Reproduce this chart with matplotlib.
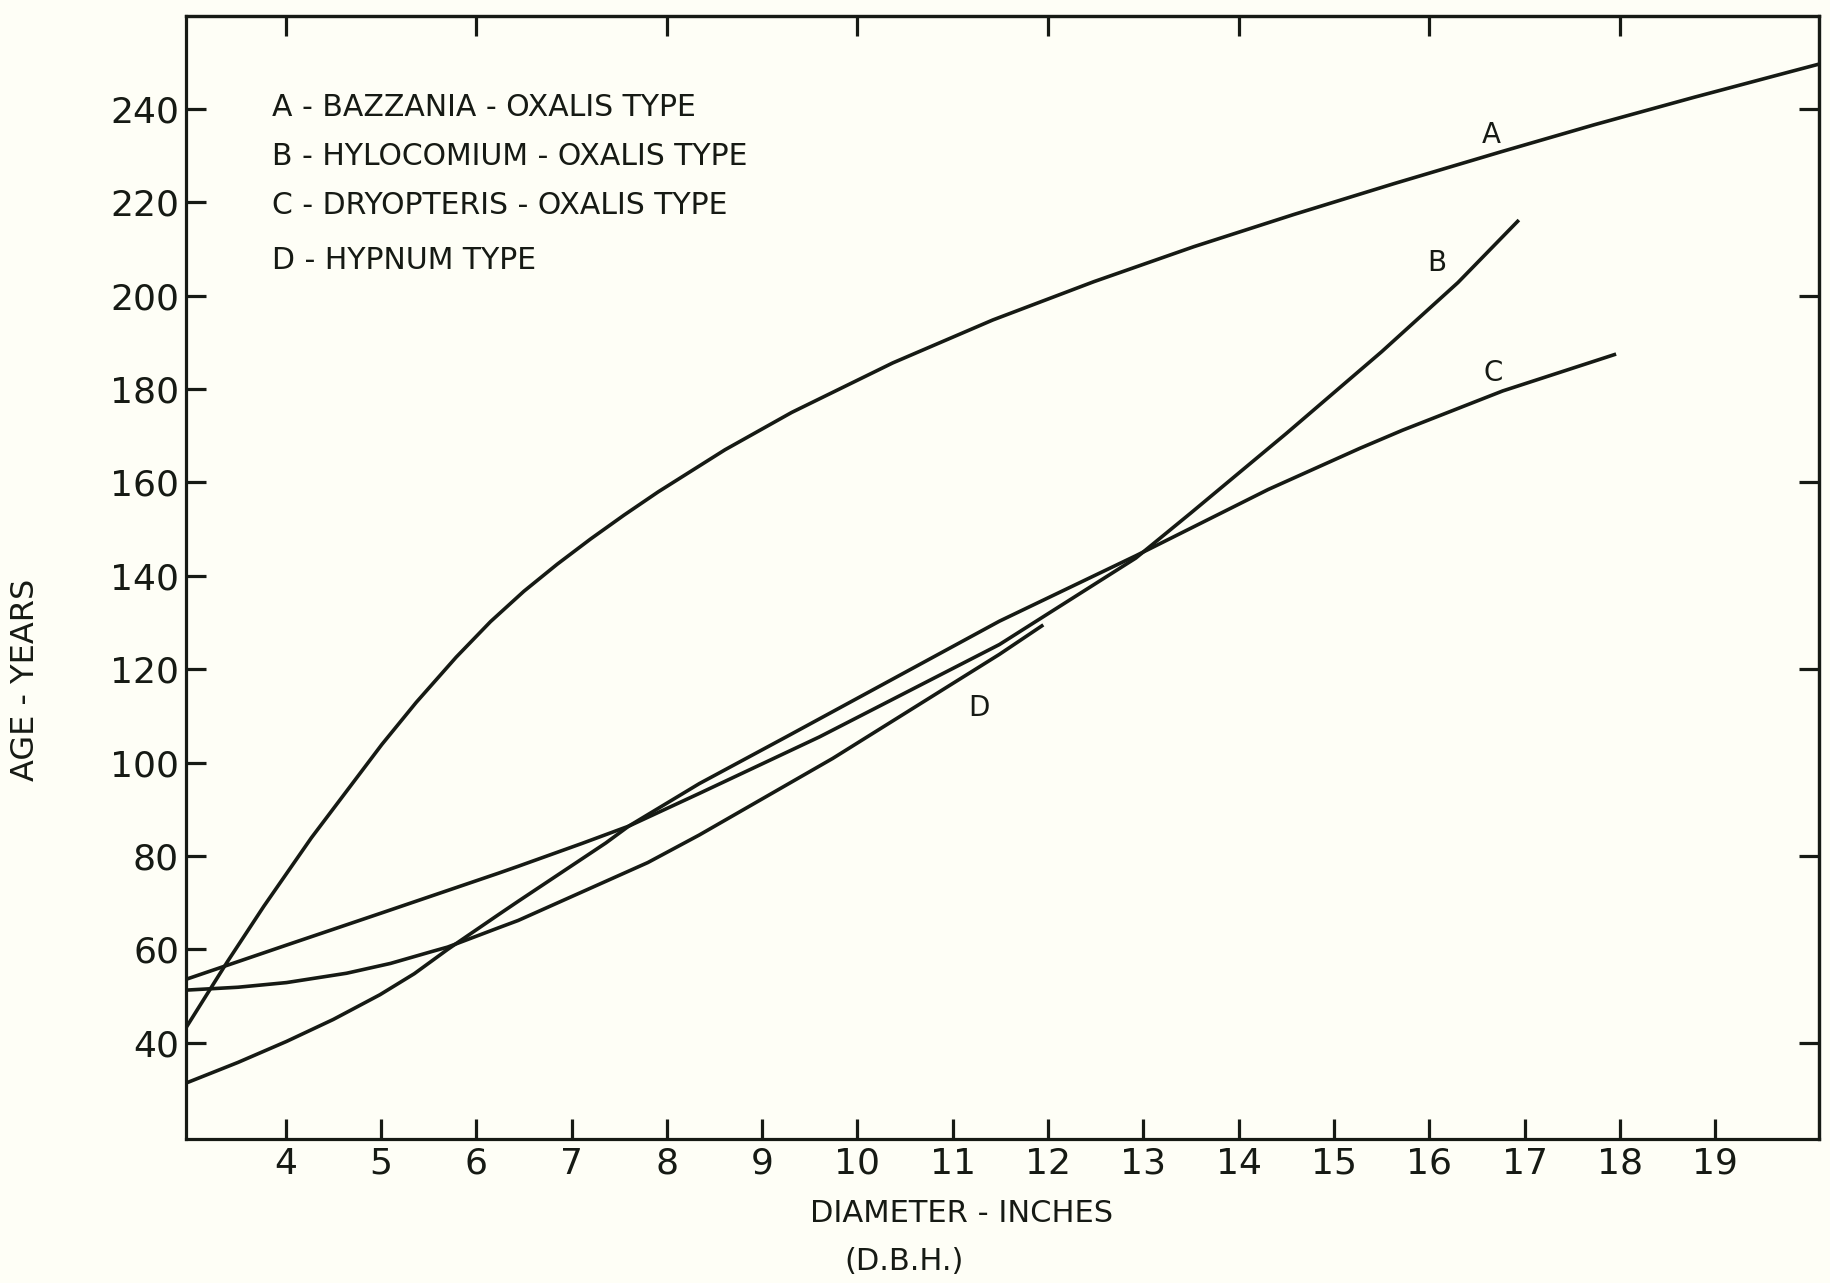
"""
plot.py
=======
Âge des arbres (années) en fonction du diamètre D.B.H. (pouces),
pour quatre types de station (A, B, C, D).

Usage
-----
    python3 plot.py      # écrit out.png
"""

import matplotlib
matplotlib.use("Agg")
import matplotlib.pyplot as plt

# ---------------------------------------------------------------- données
# Valeurs (diamètre en pouces, âge en années)

# A - Bazzania - Oxalis
diam_a = [2.96, 3.39, 3.77, 4.27, 5.01, 5.37, 5.79, 6.15, 6.50, 6.85, 7.20,
          7.55, 7.91, 8.61, 9.31, 10.37, 11.42, 12.48, 13.53, 14.58, 15.63,
          16.75, 17.73, 18.78, 19.83, 20.09]
age_a = [43.4, 57.4, 69.2, 83.9, 103.9, 112.9, 122.6, 130.2, 136.7, 142.5, 147.9,
         153.0, 158.0, 167.0, 175.0, 185.6, 194.8, 203.0, 210.5, 217.4, 224.0,
         230.8, 236.6, 242.5, 248.2, 249.6]

# B - Hylocomium - Oxalis
diam_b = [2.97, 3.50, 4.01, 4.50, 4.99, 5.35, 5.70, 6.23, 6.44, 7.36, 7.60,
          8.34, 9.60, 11.49, 12.92, 13.50, 14.50, 15.50, 16.30, 16.94]
age_b = [31.5, 35.8, 40.3, 45.0, 50.3, 54.8, 60.0, 67.4, 70.3, 82.8, 86.4,
         93.4, 105.5, 125.3, 143.8, 153.5, 170.5, 188.0, 202.8, 216.2]

# C - Dryopteris - Oxalis
diam_c = [2.97, 4.02, 5.02, 6.23, 6.44, 7.11, 7.60, 8.34, 9.26, 11.49, 12.92,
          14.31, 15.27, 15.72, 16.77, 17.96]
age_c = [53.7, 61.0, 67.9, 76.3, 77.8, 82.7, 86.4, 95.5, 105.6, 130.3, 144.3,
         158.5, 167.3, 171.2, 179.6, 187.5]

# D - Hypnum
diam_d = [2.97, 3.50, 4.01, 4.64, 5.10, 5.56, 5.70, 6.23, 6.44, 7.80, 8.34,
          9.74, 11.49, 11.95]
age_d = [51.3, 51.9, 52.9, 54.9, 57.0, 59.7, 60.5, 64.6, 66.2, 78.6, 84.5,
         100.9, 123.2, 129.5]

lettres = ["A", "B", "C", "D"]
legende = [
    "A - BAZZANIA - OXALIS TYPE",
    "B - HYLOCOMIUM - OXALIS TYPE",
    "C - DRYOPTERIS - OXALIS TYPE",
    "D - HYPNUM TYPE",
]

diam_ticks = list(range(4, 20))
diam_ticks_haut = list(range(4, 19, 2))
age_ticks = list(range(40, 241, 20))
age_ticks_droite = list(range(40, 241, 40))


def plot_age_diametre(save_path: str = "out.png") -> None:
    """Trace les quatre courbes âge / diamètre et sauvegarde l'image."""
    plt.rcParams["font.family"] = ["DejaVu Sans"]
    fond = "#fefef6"
    encre = "#161a14"

    fig = plt.figure(figsize=(18.31, 12.83), dpi=100, facecolor=fond)
    ax = fig.add_axes([0.1016, 0.1126, 0.8919, 0.8753], facecolor=fond)

    courbes = [(diam_a, age_a), (diam_b, age_b), (diam_c, age_c), (diam_d, age_d)]
    for x, y in courbes:
        ax.plot(x, y, color=encre, linewidth=2.6,
                solid_joinstyle="round", solid_capstyle="butt")

    ax.set_xlim(2.955, 20.09)
    ax.set_ylim(19.5, 260)

    # graduations : bas et gauche avec valeurs, haut et droite sans
    ax.set_xticks(diam_ticks)
    ax.set_yticks(age_ticks)
    ax.tick_params(axis="both", direction="in", length=14.5, width=2.3,
                   color=encre, labelcolor=encre, labelsize=26)
    ax.tick_params(axis="x", pad=6)
    ax.tick_params(axis="y", pad=5)
    for s in ax.spines.values():
        s.set_linewidth(2.3)
        s.set_color(encre)

    haut = ax.secondary_xaxis("top")
    haut.set_xticks(diam_ticks_haut)
    haut.tick_params(direction="in", length=14.5, width=2.3, color=encre,
                     labeltop=False)
    droite = ax.secondary_yaxis("right")
    droite.set_yticks(age_ticks_droite)
    droite.tick_params(direction="in", length=14.5, width=2.3, color=encre,
                       labelright=False)
    for sec in (haut, droite):
        for s in sec.spines.values():
            s.set_linewidth(2.3)
            s.set_color(encre)

    # lettres au bout des courbes
    pos_lettres = [(16.65, 234.4), (16.08, 206.9), (16.67, 183.5), (11.27, 111.6)]
    for lettre, (lx, ly) in zip(lettres, pos_lettres):
        ax.text(lx, ly, lettre, fontsize=20, color=encre, ha="center", va="center")

    # légende écrite en haut à gauche
    y_legende = [107, 156.5, 205.5, 260.4]
    for texte, yl in zip(legende, y_legende):
        fig.text(272 / 1831, 1 - yl / 1283, texte, fontsize=21.5, color=encre,
                 ha="left", va="center")

    # titres des axes
    fig.text(962 / 1831, 1 - 1214 / 1283, "DIAMETER - INCHES", fontsize=22,
             color=encre, ha="center", va="center")
    fig.text(904 / 1831, 1 - 1261 / 1283, "(D.B.H.)", fontsize=22,
             color=encre, ha="center", va="center")
    fig.text(26 / 1831, 1 - 680 / 1283, "AGE - YEARS", fontsize=23,
             color=encre, ha="center", va="center", rotation=90)

    fig.savefig(save_path, dpi=100, facecolor=fond)
    print(f"Graphique sauvegardé : {save_path}")


if __name__ == "__main__":
    plot_age_diametre("out.png")
